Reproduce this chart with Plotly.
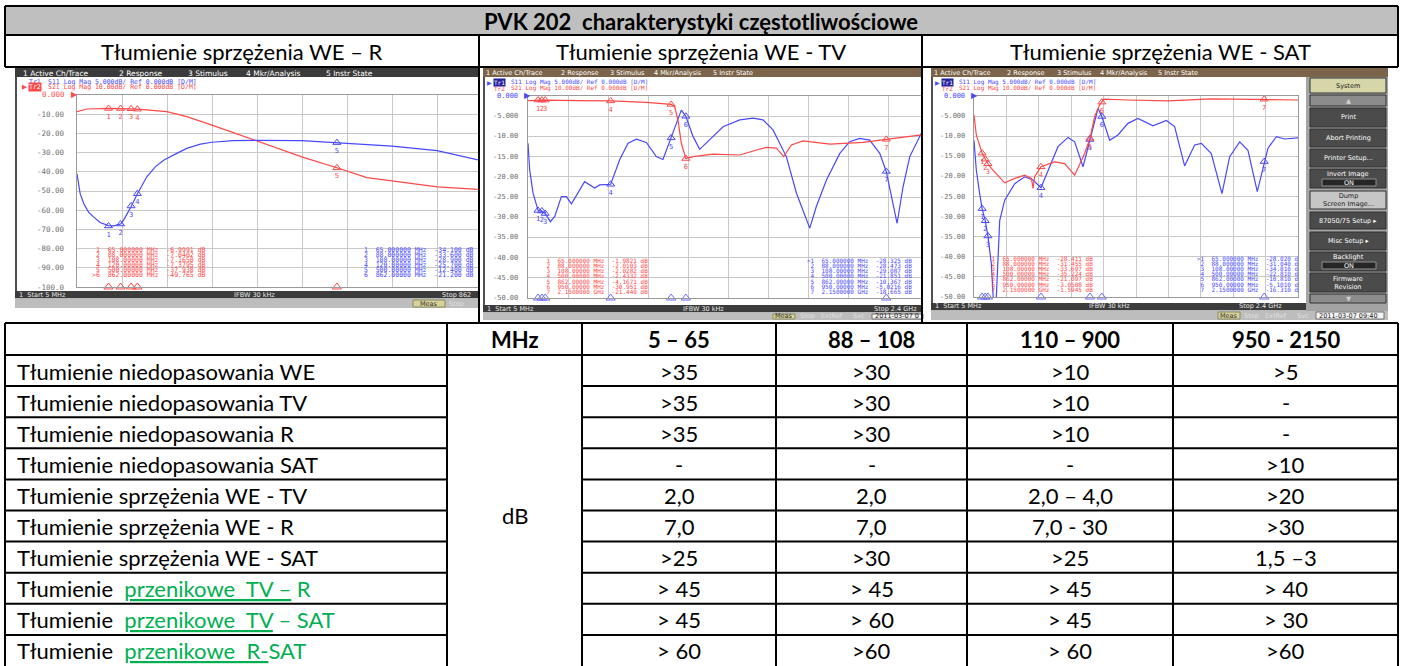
import plotly.graph_objects as go

W, H = 1403, 666
FONT = "Lato"
MONO = "DejaVu Sans Mono"
SANS = "DejaVu Sans"
RED = "#ff4848"
BLUE = "#4848ff"
GRID = "#c8c8c8"
GREEN = "#00b050"
TS = 22  # table font size

# ======================= DATA =======================
TITLE = "PVK 202  charakterystyki częstotliwościowe"
PANEL_TITLES = ["Tłumienie sprzężenia WE – R", "Tłumienie sprzężenia WE - TV", "Tłumienie sprzężenia WE - SAT"]

# Panel 1: WE - R   (S21 red 10 dB/div, S11 blue 5 dB/div), start 5 MHz stop 862 MHz
p1_s21_freq = [5, 24, 65, 88, 108, 120, 176, 214, 262, 303, 348, 433, 500, 557, 605, 691, 773, 862]
p1_s21_db = [-8.7, -7.3, -7.0, -7.04, -7.17, -7.38, -8.7, -11.3, -15.7, -19.7, -24.0, -32.2, -37.9, -43.0, -44.7, -47.8, -49.2, -49.8]
p1_s11_freq = [5, 8, 11, 18, 27, 37, 49, 65, 75, 88, 94, 103, 108, 120, 138, 154, 170, 195, 214, 240,
               262, 303, 348, 433, 500, 557, 605, 691, 773, 862]
p1_s11_db = [-20.5, -23.9, -25.7, -28.3, -30.5, -31.8, -33.2, -34.0, -34.1, -33.6, -32.5, -30.3, -29.1, -25.7, -21.3, -18.7, -17.0, -15.2, -13.9, -12.8,
             -12.3, -11.9, -11.8, -11.9, -12.4, -12.8, -13.3, -14.5, -17.0, -21.2]
p1_mkr_freq = [65, 88, 108, 120, 500, 862]
p1_mkr_s21 = [-6.9991, -7.0402, -7.1650, -7.3795, -37.938, -49.765]
p1_mkr_s11 = [-34.1, -33.6, -28.9, -25.7, -12.4, -21.2]

# Panel 2: WE - TV, start 5 MHz stop 2.4 GHz
p2_s21_freq = [5, 65, 88, 108, 314, 500, 714, 862, 883, 903, 923, 950, 993, 1113, 1273, 1432, 1492, 1536, 1582, 1652, 1812, 2011, 2150, 2360]
p2_s21_db = [-2.3, -1.98, -2.01, -2.03, -2.3, -2.43, -3.2, -4.17, -5.2, -11.8, -23.4, -30.95, -30.0, -28.8, -29.2, -25.4, -25.8, -30.0, -24.2, -22.2, -23.8, -23.0, -21.44, -19.2]
p2_s11_freq = [5, 15, 35, 55, 65, 88, 108, 139, 165, 205, 235, 265, 304, 344, 404, 434, 500, 554, 604, 654,
               714, 773, 813, 862, 893, 923, 950, 993, 1033, 1093, 1173, 1273, 1352, 1412, 1472, 1552, 1612, 1692, 1732, 1792,
               1872, 1931, 1991, 2051, 2111, 2150, 2215, 2251, 2291, 2360]
p2_s11_db = [-11.7, -18.3, -24.0, -27.3, -28.3, -28.5, -29.1, -31.1, -29.8, -24.9, -24.9, -26.7, -24.0, -21.2, -22.8, -22.0, -21.85, -15.8, -11.7, -10.7,
             -11.5, -15.0, -15.7, -10.37, -7.2, -3.5, -5.02, -10.0, -13.2, -10.9, -7.6, -5.9, -5.5, -5.9, -8.4, -15.0, -24.0, -32.7, -27.3, -20.8,
             -14.2, -11.3, -10.5, -10.9, -14.2, -18.67, -31.5, -22.4, -15.0, -9.2]
p2_mkr_freq = [65, 88, 108, 500, 862, 950, 2150]
p2_mkr_s21 = [-1.9821, -2.0103, -2.0282, -2.4332, -4.1671, -30.951, -21.440]
p2_mkr_s11 = [-28.325, -28.473, -29.087, -21.851, -10.367, -5.0216, -18.665]

# Panel 3: WE - SAT, start 5 MHz stop 2.4 GHz
p3_s21_freq = [5, 22, 65, 88, 108, 133, 232, 306, 380, 430, 441, 453, 500, 601, 675, 749, 823, 862, 897, 934, 950, 966, 1143, 1439, 1759, 2150, 2400]
p3_s21_db = [-9.4, -19.4, -28.41, -31.46, -33.7, -36.0, -43.2, -41.0, -39.4, -41.0, -46.0, -40.2, -35.2, -32.8, -33.6, -39.4, -28.6, -21.1, -10.2, -4.4, -3.05, -1.6, -2.0, -2.4, -1.4, -1.59, -2.0]
p3_s11_freq = [5, 22, 47, 65, 88, 108, 133, 145, 157, 170, 195, 232, 306, 380, 441, 500, 552, 626, 700, 749,
               811, 862, 897, 922, 950, 1008, 1069, 1143, 1217, 1328, 1427, 1488, 1562, 1636, 1686, 1759, 1838, 1895, 1969, 2030,
               2099, 2150, 2178, 2240, 2301, 2400]
p3_s11_db = [-11.0, -18.4, -24.3, -28.0, -31.0, -34.8, -41.7, -50.5, -56.0, -50.0, -31.0, -25.9, -21.8, -20.1, -20.9, -22.8, -18.4, -12.6, -10.3, -11.4,
             -17.6, -10.8, -6.0, -3.1, -5.1, -11.0, -9.7, -6.8, -5.6, -7.4, -6.1, -7.6, -17.4, -12.2, -11.8, -14.3, -24.3, -15.1, -11.4, -13.5,
             -23.8, -16.3, -13.0, -10.1, -10.7, -10.4]
p3_mkr_freq = [65, 88, 108, 500, 862, 950, 2150]
p3_mkr_s21 = [-28.411, -31.455, -33.697, -35.224, -21.097, -3.0508, -1.5945]
p3_mkr_s11 = [-28.02, -31.04, -34.81, -22.81, -10.81, -5.101, -16.31]

# Table
BAND_HEADERS = ["MHz", "5 – 65", "88 – 108", "110 – 900", "950 - 2150"]
UNIT = "dB"
ROW_LABELS = ["Tłumienie niedopasowania WE", "Tłumienie niedopasowania TV", "Tłumienie niedopasowania R",
              "Tłumienie niedopasowania SAT", "Tłumienie sprzężenia WE - TV", "Tłumienie sprzężenia WE - R",
              "Tłumienie sprzężenia WE - SAT", "Tłumienie  przenikowe  TV – R", "Tłumienie  przenikowe  TV – SAT",
              "Tłumienie  przenikowe  R-SAT"]
COL_5_65 = [">35", ">35", ">35", "-", "2,0", "7,0", ">25", "> 45", "> 45", "> 60"]
COL_88_108 = [">30", ">30", ">30", "-", "2,0", "7,0", ">30", "> 45", "> 60", ">60"]
COL_110_900 = [">10", ">10", ">10", "-", "2,0 – 4,0", "7,0 - 30", ">25", "> 45", "> 45", "> 60"]
COL_950_2150 = [">5", "-", "-", ">10", ">20", ">30", "1,5 –3", "> 40", "> 30", ">60"]
# crosstalk rows: (underlined green part, plain green part)
CROSSTALK_PARTS = {7: ("przenikowe  TV –", " R"), 8: ("przenikowe  TV", " – SAT"), 9: ("przenikowe  R-", "SAT")}

# ======================= HELPERS =======================
shapes, anns, traces = [], [], []


def px(x):
    return x / W


def py(y):
    return 1 - y / H


def rect(x0, y0, x1, y1, fill, line=None, lw=0, layer="below"):
    shapes.append(dict(type="rect", xref="paper", yref="paper", x0=px(x0), x1=px(x1), y0=py(y1), y1=py(y0),
                       fillcolor=fill, line=dict(color=line or fill, width=lw), layer=layer))


def line(x0, y0, x1, y1, color="black", w=2, layer="above"):
    shapes.append(dict(type="line", xref="paper", yref="paper", x0=px(x0), x1=px(x1), y0=py(y0), y1=py(y1),
                       line=dict(color=color, width=w), layer=layer))


def text(x, y, s, size=8, color="black", family=SANS, xanchor="left", bg=None):
    d = dict(xref="paper", yref="paper", x=px(x), y=py(y), text=s, showarrow=False, xanchor=xanchor,
             yanchor="middle", font=dict(size=size, color=color, family=family), borderpad=0)
    if bg:
        d["bgcolor"] = bg
    anns.append(d)


def p2d(v, p0, p1, r0, r1):
    return r0 + (v - p0) / (p1 - p0) * (r1 - r0)


def fmt_freq(f):
    if f >= 1000:
        return f"{f / 1000:.7f} GHz"
    n = len(str(int(f)))
    return f"{f:.{8 - n}f} MHz"


def fmt_db(v):
    n = len(str(int(abs(v))))
    return f"{v:.{5 - n}f}"


# ======================= PANELS =======================
panels = [
    dict(xa="x", yred="y", yblue="y2", grid_axis="y", grid_range=[-100, 0], grid_dtick=10,
         freq_start=5, freq_span=857, plot=(77, 478, 95, 287), full_w=450,
         s21=(p1_s21_freq, p1_s21_db), s11=(p1_s11_freq, p1_s11_db),
         mkr=(p1_mkr_freq, p1_mkr_s21, p1_mkr_s11),
         labels=["0.000", "-10.00", "-20.00", "-30.00", "-40.00", "-50.00", "-60.00", "-70.00", "-80.00", "-90.00", "-100.0"],
         label_color=RED, label_right=67, lab_size=7.5,
         red_tab=(92, 250, 5.1), blue_tab=(360, 250, 5.1), tab_size=6.5, active=2),
    dict(xa="x2", yred="y4", yblue="y3", grid_axis="y3", grid_range=[-50, 0], grid_dtick=5,
         freq_start=5, freq_span=2395, plot=(528, 922, 96, 298), full_w=400,
         s21=(p2_s21_freq, p2_s21_db), s11=(p2_s11_freq, p2_s11_db),
         mkr=(p2_mkr_freq, p2_mkr_s21, p2_mkr_s11),
         labels=["0.000", "-5.000", "-10.00", "-15.00", "-20.00", "-25.00", "-30.00", "-35.00", "-40.00", "-45.00", "-50.00"],
         label_color=BLUE, label_right=520, lab_size=7,
         red_tab=(543, 261, 5.3), blue_tab=(807, 261, 5.3), tab_size=6, active=1),
    dict(xa="x3", yred="y6", yblue="y5", grid_axis="y5", grid_range=[-50, 0], grid_dtick=5,
         freq_start=5, freq_span=2395, plot=(974, 1298, 96, 297), full_w=324,
         s21=(p3_s21_freq, p3_s21_db), s11=(p3_s11_freq, p3_s11_db),
         mkr=(p3_mkr_freq, p3_mkr_s21, p3_mkr_s11),
         labels=["0.000", "-5.000", "-10.00", "-15.00", "-20.00", "-25.00", "-30.00", "-35.00", "-40.00", "-45.00", "-50.00"],
         label_color=BLUE, label_right=967, lab_size=7,
         red_tab=(988, 259, 5.2), blue_tab=(1197, 259, 5.2), tab_size=6, active=1),
]

layout_axes = {}
for i, p in enumerate(panels):
    x0, x1, y0, y1 = p["plot"]
    fs, span = p["freq_start"], p["freq_span"]
    xr = [fs, fs + span * (x1 - x0) / p["full_w"]]
    p["xr"] = xr
    xkey = "xaxis" + ("" if p["xa"] == "x" else p["xa"][1:])
    red_key = "yaxis" + ("" if p["yred"] == "y" else p["yred"][1:])
    blue_key = "yaxis" + p["yblue"][1:]
    layout_axes[xkey] = dict(domain=[px(x0), px(x1)], range=xr, anchor=p["grid_axis"], tick0=fs, dtick=span / 10,
                             showticklabels=False, ticks="", showgrid=True, gridcolor=GRID, gridwidth=1,
                             zeroline=False, showline=True, mirror=True, linecolor="#9a9a9a", linewidth=1,
                             fixedrange=True)
    grid_ax = dict(domain=[py(y1), py(y0)], range=p["grid_range"], dtick=p["grid_dtick"], anchor=p["xa"],
                   showticklabels=False, ticks="", showgrid=True, gridcolor=GRID, gridwidth=1, zeroline=False,
                   showline=True, mirror=True, linecolor="#9a9a9a", linewidth=1, fixedrange=True)
    if p["grid_axis"] == p["yred"]:
        layout_axes[red_key] = grid_ax
        layout_axes[blue_key] = dict(overlaying=p["yred"], anchor=p["xa"], range=[-50, 0], visible=False, fixedrange=True)
    else:
        layout_axes[blue_key] = grid_ax
        layout_axes[red_key] = dict(overlaying=p["yblue"], anchor=p["xa"], range=[-100, 0], visible=False, fixedrange=True)

    # traces
    traces.append(go.Scatter(x=p["s21"][0], y=p["s21"][1], xaxis=p["xa"], yaxis=p["yred"], mode="lines",
                             line=dict(color=RED, width=1.2), hoverinfo="skip"))
    traces.append(go.Scatter(x=p["s11"][0], y=p["s11"][1], xaxis=p["xa"], yaxis=p["yblue"], mode="lines",
                             line=dict(color=BLUE, width=1.2), hoverinfo="skip"))
    mf, m21, m11 = p["mkr"]
    nums = [str(k + 1) for k in range(len(mf))]
    traces.append(go.Scatter(x=mf, y=m21, xaxis=p["xa"], yaxis=p["yred"], mode="markers+text", text=nums,
                             textposition="bottom center", textfont=dict(size=7, color=RED, family=MONO),
                             marker=dict(symbol="triangle-up-open", size=7, color=RED, line=dict(width=1)),
                             hoverinfo="skip"))
    traces.append(go.Scatter(x=mf, y=m11, xaxis=p["xa"], yaxis=p["yblue"], mode="markers+text", text=nums,
                             textposition="bottom center", textfont=dict(size=7, color=BLUE, family=MONO),
                             marker=dict(symbol="triangle-up-open", size=7, color=BLUE, line=dict(width=1)),
                             hoverinfo="skip"))
    # marker indicators under the x axis
    inside = [f for f in mf if f <= xr[1]]
    bot_col = RED if p["active"] == 2 else "#6a6aff"
    bot_y = p["grid_range"][0]
    traces.append(go.Scatter(x=inside, y=[bot_y] * len(inside), xaxis=p["xa"], yaxis=p["grid_axis"], mode="markers",
                             marker=dict(symbol="triangle-up-open", size=8, color=bot_col, line=dict(width=1)),
                             cliponaxis=False, hoverinfo="skip"))
    # marker tables (clipped by plot area)
    for (tx, ty, dy), vals, col, act in ((p["red_tab"], m21, RED, 2), (p["blue_tab"], m11, BLUE, 1)):
        rows = []
        for k, (f, v) in enumerate(zip(mf, vals)):
            prefix = ">" if (k == len(mf) - 1 and p["active"] == 2 and act == 2) or (k == 0 and p["active"] == 1 and act == 1) else " "
            rows.append(f"{prefix}{k + 1}  {fmt_freq(f)}  {fmt_db(v)} dB".replace(" ", "\u00a0"))
        xs = [p2d(tx, x0, x1, xr[0], xr[1])] * len(rows)
        ys = [p2d(ty + dy * k, y0, y1, 0, -100 if p["grid_axis"] == p["yred"] else -50) for k in range(len(rows))]
        traces.append(go.Scatter(x=xs, y=ys, xaxis=p["xa"], yaxis=p["grid_axis"], mode="text", text=rows,
                                 textposition="middle right", textfont=dict(size=p["tab_size"], color=col, family=MONO),
                                 cliponaxis=True, hoverinfo="skip"))
    # y tick labels
    gvals = [p["grid_range"][1] - k * p["grid_dtick"] for k in range(len(p["labels"]))]
    for k, (lab, v) in enumerate(zip(p["labels"], gvals)):
        anns.append(dict(xref="paper", yref=p["grid_axis"], x=px(p["label_right"]), y=v, text=lab, showarrow=False,
                         xanchor="right", yanchor="middle",
                         font=dict(size=p["lab_size"], family=MONO, color=p["label_color"] if k == 0 else "#6e6e6e")))
    anns.append(dict(xref="paper", yref=p["grid_axis"], x=px(p["label_right"] + 2), y=0, text="▶", showarrow=False,
                     xanchor="left", yanchor="middle", font=dict(size=8, color=p["label_color"], family=SANS)))

# ======================= SCREENSHOT FRAMES =======================
TOPMENU = ["1 Active Ch/Trace", "2 Response", "3 Stimulus", "4 Mkr/Analysis", "5 Instr State"]
frames = [
    dict(x0=15, x1=478, bar="#3b3b3b", screen=(16, 478, 77, 291), menu_x=[22, 118, 187, 245, 325], menu_size=7.5,
         hdr=(21, 28, 47), hdr_y=(81.5, 87.5), hdr_size=6.5, active=2,
         bot=(291, 298), gray=(299, 308), bot_items=[(18, "1  Start 5 MHz"), (233, "IFBW 30 kHz"), (441, "Stop 862")],
         meas=(413, 445), stat=[(448, "Stop")], date=None),
    dict(x0=483, x1=923, bar="#7b644a", screen=(485, 923, 77, 305), menu_x=[485, 560, 609, 653, 712], menu_size=6.5,
         hdr=(486, 493, 510), hdr_y=(82.5, 88.5), hdr_size=6, active=1,
         bot=(305, 312), gray=(313, 320), bot_items=[(486, "1  Start 5 MHz"), (682, "IFBW 30 kHz"), (873, "Stop 2.4 GHz")],
         meas=(773, 795), stat=[(799, "Stop"), (820, "ExtRef"), (852, "Svc")], date=(872, 923, "2011-03-07 0")),
    dict(x0=931, x1=1388, bar="#7b644a", screen=(933, 1306, 77, 303), menu_x=[933, 1006, 1056, 1099, 1157], menu_size=6.5,
         hdr=(934, 941, 958), hdr_y=(82.5, 88.5), hdr_size=6, active=1,
         bot=(303, 310), gray=(311, 320), bot_items=[(934, "1  Start 5 MHz"), (1088, "IFBW 30 kHz"), (1238, "Stop 2.4 GHz")],
         meas=(1218, 1240), stat=[(1243, "Stop"), (1264, "ExtRef"), (1296, "Svc")], date=(1316, 1384, "2011-03-07 09:40")),
]

for fr in frames:
    sx0, sx1, sy0, sy1 = fr["screen"]
    rect(fr["x0"], 68, fr["x1"], fr["gray"][1], "#b8b8b8")
    rect(fr["x0"], 68, fr["x1"], 77, fr["bar"])
    rect(sx0, sy0, sx1, sy1, "white")
    line(fr["x0"] + 1, 77, fr["x0"] + 1, fr["bot"][1], color="#505050", w=2, layer="below")
    for mx, lab in zip(fr["menu_x"], TOPMENU):
        text(mx, 73, lab, size=fr["menu_size"], color="white")
    rect(fr["x0"], fr["bot"][0], min(fr["x1"], sx1), fr["bot"][1], "#3c3c3c")
    for bx, lab in fr["bot_items"]:
        text(bx, (fr["bot"][0] + fr["bot"][1]) / 2, lab, size=6.5, color="#e8e8e8")
    rect(fr["x0"], fr["gray"][0], fr["x1"], fr["gray"][1], "#bdbdbd")
    gy = (fr["gray"][0] + fr["gray"][1]) / 2
    rect(fr["meas"][0], fr["gray"][0] + 1, fr["meas"][1], fr["gray"][1] - 1, "#d8d29a", line="#8a8a60", lw=1)
    text((fr["meas"][0] + fr["meas"][1]) / 2, gy, "Meas", size=6.5, color="#303030", xanchor="center")
    for sx, lab in fr["stat"]:
        text(sx, gy, lab, size=6.5, color="#e0e0e0")
    if fr["date"]:
        dx0, dx1, dlab = fr["date"]
        rect(dx0, fr["gray"][0] + 1, dx1, fr["gray"][1] - 1, "#f4f4f4", line="#707070", lw=1)
        text(dx0 + 2, gy, dlab, size=6.5, color="#202020")
    # trace header lines
    ax_, tx_, hx_ = fr["hdr"]
    l1, l2 = fr["hdr_y"]
    s = fr["hdr_size"]
    h1 = "S11 Log Mag 5.000dB/ Ref 0.000dB [D/M]".replace(" ", "\u00a0")
    h2 = "S21 Log Mag 10.00dB/ Ref 0.000dB [D/M]".replace(" ", "\u00a0")
    if fr["active"] == 2:
        text(tx_, l1, "Tr1", size=s, color=BLUE, family=MONO)
        text(hx_, l1, h1, size=s, color=BLUE, family=MONO)
        text(ax_, l2, "▶", size=s, color=RED)
        text(tx_, l2, "Tr2", size=s, color="white", family=MONO, bg=RED)
        text(hx_, l2, h2, size=s, color=RED, family=MONO)
    else:
        text(ax_, l1, "▶", size=s, color=BLUE)
        text(tx_, l1, "Tr1", size=s, color="white", family=MONO, bg="#2020a0")
        text(hx_, l1, h1, size=s, color=BLUE, family=MONO)
        text(tx_, l2, "Tr2", size=s, color=RED, family=MONO)
        text(hx_, l2, h2, size=s, color=RED, family=MONO)

# softkey panel (panel 3)
rect(1306, 77, 1388, 311, "#a4a4a4")
SOFTKEYS = [("System", 78, 93, "#d6d6a8", "#202020"), ("▲", 95, 106, "#8c8c8c", "#d0d0d0"),
            ("Print", 108, 127, "#4b4b4b", "white"), ("Abort Printing", 129, 147, "#4b4b4b", "white"),
            ("Printer Setup...", 149, 167, "#4b4b4b", "white"), ("Invert Image", 169, 188, "#4b4b4b", "white"),
            ("Dump<br>Screen Image...", 191, 209, "#c6c6c6", "#202020"), ("87050/75 Setup ▸", 212, 229, "#4b4b4b", "white"),
            ("Misc Setup ▸", 232, 250, "#4b4b4b", "white"), ("Backlight", 252, 271, "#4b4b4b", "white"),
            ("Firmware<br>Revision", 273, 292, "#4b4b4b", "white"), ("▼", 294, 303, "#8c8c8c", "#d0d0d0")]
for lab, k0, k1, bg, fc in SOFTKEYS:
    rect(1310, k0, 1386, k1, bg, line="#303030", lw=1)
    if lab in ("Invert Image", "Backlight"):
        text(1348, k0 + 5, lab, size=6.5, color=fc, xanchor="center")
        rect(1322, k0 + 10, 1376, k1 - 2, "#262626", line="#909090", lw=1)
        text(1349, k0 + 13.5, "ON", size=6.5, color="white", xanchor="center")
    else:
        text(1348, (k0 + k1) / 2, lab, size=6.5, color=fc, xanchor="center")

# ======================= TABLE =======================
rect(5, 6, 1398, 35, "#bfbfbf")
text(701, 21, f"<b>{TITLE}</b>", size=TS, family=FONT, xanchor="center")
col_centers = [242, 700.5, 1160]
for cx, t in zip(col_centers, PANEL_TITLES):
    text(cx, 51.5, t, size=TS, family=FONT, xanchor="center")

COLS = [5, 447, 582, 776, 967, 1173, 1398]
ROW_TOP = 323
ROW_H = 31.1
header_y = ROW_TOP + 16.5
for j, lab in enumerate(BAND_HEADERS):
    text((COLS[j + 1] + COLS[j + 2]) / 2, header_y, f"<b>{lab}</b>", size=TS, family=FONT, xanchor="center")

value_cols = [COL_5_65, COL_88_108, COL_110_900, COL_950_2150]
nb = lambda s: s.replace(" ", "\u00a0")
for i, lab in enumerate(ROW_LABELS):
    yc = ROW_TOP + 32 + ROW_H * i + ROW_H / 2 + 0.5
    if i in CROSSTALK_PARTS:
        u, rest = CROSSTALK_PARTS[i]
        html = f"Tłumienie\u00a0\u00a0<span style='color:{GREEN}'><u>{nb(u)}</u>{nb(rest)}</span>"
        text(16, yc, html, size=TS, family=FONT)
    else:
        text(16, yc, lab, size=TS, family=FONT)
    for j, col in enumerate(value_cols):
        text((COLS[j + 2] + COLS[j + 3]) / 2, yc, col[i], size=TS, family=FONT, xanchor="center")
text((COLS[1] + COLS[2]) / 2, (ROW_TOP + 32 + H) / 2 + 5, UNIT, size=TS, family=FONT, xanchor="center")

# grid lines of the table
for y in (6, 35, 67, ROW_TOP):
    line(5, y, 1398, y)
line(5, ROW_TOP + 32, 1398, ROW_TOP + 32)
for i in range(1, 10):
    y = ROW_TOP + 32 + ROW_H * i
    line(5, y, COLS[1], y)
    line(COLS[2], y, 1398, y)
for x in (5, 1398):
    line(x, 6, x, 67)
    line(x, ROW_TOP, x, H)
for x in (479, 922):
    line(x, 35, x, ROW_TOP)
for x in COLS[1:-1]:
    line(x, ROW_TOP, x, H)

fig = go.Figure(data=traces)
fig.update_layout(width=W, height=H, margin=dict(l=0, r=0, t=0, b=0), paper_bgcolor="white",
                  plot_bgcolor="rgba(0,0,0,0)", showlegend=False, shapes=shapes, annotations=anns, **layout_axes)
fig.write_html("out.html", config={"displayModeBar": False},
               post_script="document.body.style.margin='0px';document.body.style.overflow='hidden';")
